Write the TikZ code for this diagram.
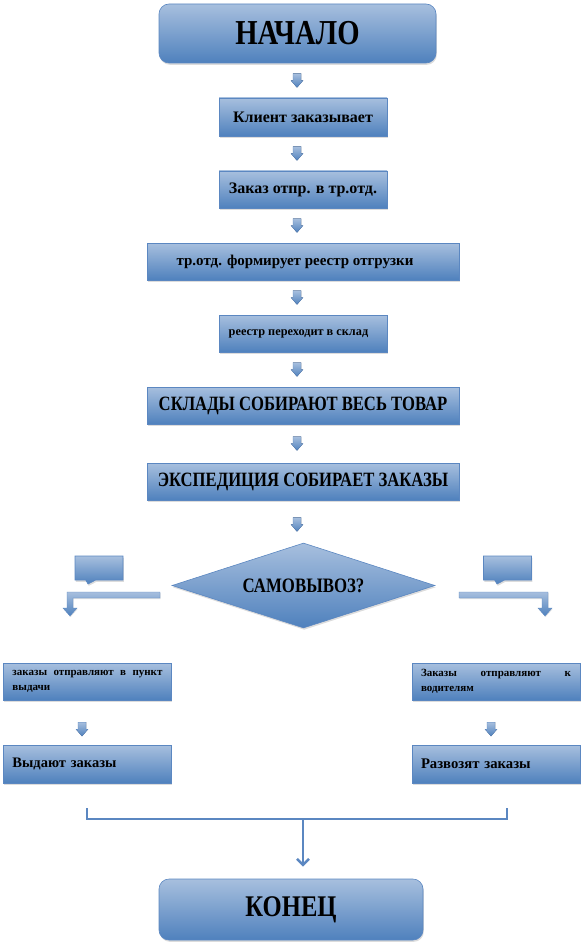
\documentclass[tikz,border=0pt]{standalone}
\usepackage{fontspec}
\setmainfont{Liberation Serif}
\newfontfamily\capsf[FakeStretch=0.82]{Liberation Serif}
\usetikzlibrary{shapes.geometric,shapes.callouts,shadows,calc,arrows.meta}
\definecolor{btop}{HTML}{A7BFDE}
\definecolor{bbot}{HTML}{4F81BD}
\definecolor{bline}{HTML}{5B87C1}
\tikzset{
  shade/.style={top color=btop, bottom color=bbot, draw=bline, line width=0.6pt,
    drop shadow={shadow xshift=0.8pt, shadow yshift=-1.8pt, opacity=0.3, fill=black!45}},
  sbox/.style={shade, rectangle, inner sep=0pt, text=black},
  rbox/.style={sbox, rounded corners=10pt},
  dbox/.style={shade, diamond, aspect=3.1, minimum width=263pt, minimum height=85pt, inner sep=0pt},
  cbox/.style={shade, rectangle callout, minimum width=48pt, minimum height=24pt, inner sep=0pt, callout pointer width=10pt},
  lbox/.style={sbox, inner xsep=9pt, inner ysep=0pt, text width=150pt, align=left, minimum height=37pt},
  bentarrow/.style={top color=btop, bottom color=bbot, draw=bline, line width=0.4pt,
    drop shadow={shadow xshift=0.6pt, shadow yshift=-1pt, opacity=0.25, fill=black!45}},
  joinline/.style={draw=bline, line width=2.6pt},
  darrow/.pic={\fill[top color=btop, bottom color=bbot, draw=bline, line width=0.3pt]
    (-4,-7) -- (4,-7) -- (4,0) -- (6,0) -- (0,7) -- (-6,0) -- (-4,0) -- cycle;}
}
\newcommand{\fsz}[1]{\fontsize{#1}{#1}\selectfont\bfseries}
\newcommand{\csz}[1]{\capsf\fontsize{#1}{#1}\selectfont\bfseries}
\begin{document}
\begin{tikzpicture}[x=1pt,y=-1pt]
\useasboundingbox (0,0) rectangle (582,944);
\coordinate (ax) at (297,0);
\coordinate (axl) at (82,0);
\coordinate (axr) at (491,0);

\node[rbox, minimum width=277pt, minimum height=59pt, font=\csz{35}] (start) at (297.5,33.5) {НАЧАЛО};
\node[sbox, minimum width=168pt, minimum height=38pt, font=\fsz{16}] (n1) at (303,117) {Клиент заказывает};
\node[sbox, minimum width=168pt, minimum height=37pt, font=\fsz{16}] (n2) at (303,189.5) {Заказ отпр. в тр.отд.};
\node[sbox, minimum width=312pt, minimum height=37pt, font=\fsz{15}] (n3) at (303,261.5) {тр.отд. формирует реестр отгрузки\hspace*{16pt}};
\node[sbox, minimum width=168pt, minimum height=37pt, font=\fsz{12.3}] (n4) at (303,333.5) {реестр переходит в склад\hspace*{9pt}};
\node[sbox, minimum width=312pt, minimum height=37pt, font=\csz{20.3}] (n5) at (303,405.5) {СКЛАДЫ СОБИРАЮТ ВЕСЬ ТОВАР};
\node[sbox, minimum width=312pt, minimum height=37pt, font=\csz{20.3}] (n6) at (303,481.5) {ЭКСПЕДИЦИЯ СОБИРАЕТ ЗАКАЗЫ};
\node[dbox, font=\csz{20.5}] (q) at (303.5,585.5) {САМОВЫВОЗ?};
\node[cbox, callout absolute pointer={(88,584)}] (cl) at (99,568) {};
\node[cbox, callout absolute pointer={(497,584)}] (cr) at (507.5,568) {};

\node[lbox, font=\fontsize{11}{14.5}\selectfont\bfseries] (L1) at (87.5,681.5)
  {\hbox to 150pt{заказы\hfill отправляют\hfill в\hfill пункт}\\выдачи};
\node[lbox, font=\fontsize{11}{14.5}\selectfont\bfseries] (R1) at (496,681.5)
  {\hbox to 150pt{Заказы\hfill отправляют\hfill к}\\водителям};
\node[lbox, minimum height=38pt, font=\fsz{14.5}] (L2) at (87.5,764) {Выдают заказы};
\node[lbox, minimum height=38pt, font=\fsz{14.7}] (R2) at (496,764) {Развозят заказы};

\node[rbox, minimum width=264pt, minimum height=61pt, font=\csz{30}] (end) at (291,909.5) {КОНЕЦ};

% block arrows between steps
\coordinate (m1) at ($(start.south)!0.5!(n1.north)$);
\coordinate (m2) at ($(n1.south)!0.5!(n2.north)$);
\coordinate (m3) at ($(n2.south)!0.5!(n3.north)$);
\coordinate (m4) at ($(n3.south)!0.5!(n4.north)$);
\coordinate (m5) at ($(n4.south)!0.5!(n5.north)$);
\coordinate (m6) at ($(n5.south)!0.5!(n6.north)$);
\coordinate (m7) at ($(n6.south)!0.57!(q.north)$);
\coordinate (ml) at ($(L1.south)!0.65!(L2.north)$);
\coordinate (mr) at ($(R1.south)!0.65!(R2.north)$);
\foreach \m in {m1,m2,m3,m4,m5,m6,m7} {\pic at (\m -| ax) {darrow};}
\pic at (ml -| axl) {darrow};
\pic at (mr -| axr) {darrow};

% bent arrows from the decision
\path[bentarrow] (160,592) -- (67,592) -- (67,608) -- (63,608) -- (70,616) -- (77,608) -- (73,608) -- (73,598) -- (160,598) -- cycle;
\path[bentarrow] (459,592) -- (548,592) -- (548,608) -- (552,608) -- (545,616) -- (538,608) -- (542,608) -- (542,598) -- (459,598) -- cycle;

% joining bracket
\coordinate (bl) at (87,808);
\coordinate (br) at (507,808);
\coordinate (bm) at (303,819);
\draw[joinline] (bl) |- (bm) -| (br);
\draw[joinline, -{Straight Barb[length=6pt,width=12pt]}, shorten >=12pt] (bm) -- (bm |- end.north);
\end{tikzpicture}
\end{document}
